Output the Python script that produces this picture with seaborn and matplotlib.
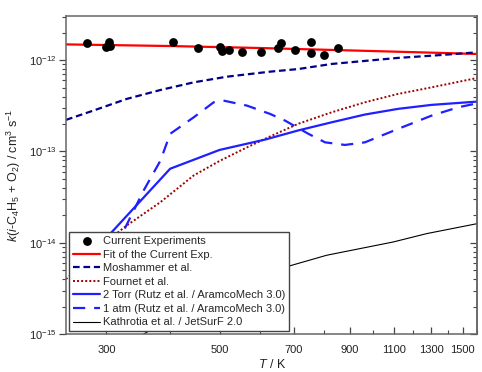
import numpy as np
import matplotlib
matplotlib.use("Agg")
import matplotlib.pyplot as plt
import seaborn as sns
from matplotlib.ticker import FixedLocator, FixedFormatter, NullFormatter, LogFormatterSciNotation

# current experiments
exp_T = [275, 299, 304, 305, 406, 454, 502, 505, 521, 553, 603, 651, 660, 704, 756, 756, 803, 854]
exp_k = [1.53e-12, 1.38e-12, 1.57e-12, 1.44e-12, 1.58e-12, 1.35e-12, 1.40e-12, 1.27e-12, 1.29e-12,
         1.24e-12, 1.22e-12, 1.35e-12, 1.53e-12, 1.30e-12, 1.59e-12, 1.19e-12, 1.15e-12, 1.35e-12]

# fit of the current experiments
fit_T = [250, 400, 600, 900, 1300, 1600]
fit_k = [1.49e-12, 1.43e-12, 1.36e-12, 1.28e-12, 1.21e-12, 1.17e-12]

# Moshammer et al.
mos_T = [250, 283, 329, 383, 445, 517, 628, 713, 830, 1119, 1302, 1600]
mos_k = [2.22e-13, 2.81e-13, 3.77e-13, 4.72e-13, 5.72e-13, 6.6e-13, 7.49e-13, 8.0e-13, 9.1e-13,
         1.06e-12, 1.12e-12, 1.22e-12]

# Fournet et al.
fou_T = [250, 305, 329, 383, 445, 502, 566, 628, 713, 830, 964, 1119, 1302, 1600]
fou_k = [4.0e-15, 1.11e-14, 1.55e-14, 2.79e-14, 5.47e-14, 7.97e-14, 1.11e-13, 1.46e-13, 2.01e-13,
         2.69e-13, 3.46e-13, 4.27e-13, 5.04e-13, 6.39e-13]

# Rutz et al. / AramcoMech 3.0, 2 Torr
torr_T = [300, 400, 500, 614, 713, 830, 964, 1119, 1302, 1600]
torr_k = [1.13e-14, 6.47e-14, 1.04e-13, 1.35e-13, 1.70e-13, 2.09e-13, 2.54e-13, 2.93e-13, 3.24e-13, 3.52e-13]

# Rutz et al. / AramcoMech 3.0, 1 atm
atm_T = [300, 329, 355, 383, 400, 445, 487, 509, 566, 628, 672, 747, 805, 881, 964, 1120, 1302, 1469, 1600]
atm_k = [5.5e-15, 1.59e-14, 3.75e-14, 7.97e-14, 1.56e-13, 2.37e-13, 3.46e-13, 3.61e-13, 3.18e-13,
         2.58e-13, 2.18e-13, 1.56e-13, 1.26e-13, 1.18e-13, 1.26e-13, 1.77e-13, 2.47e-13, 3.05e-13, 3.37e-13]

# Kathrotia et al. / JetSurF 2.0
kat_T = [355, 450, 560, 682, 811, 1095, 1274, 1600]
kat_k = [1.0e-15, 2.24e-15, 3.9e-15, 5.53e-15, 7.3e-15, 1.02e-14, 1.26e-14, 1.62e-14]

x_major = [300, 500, 700, 900, 1100, 1300, 1500]
x_minor = [400, 600, 800, 1000, 1200, 1400, 1600]
y_major = [1e-15, 1e-14, 1e-13, 1e-12]

sns.set_style("ticks")
plt.rcParams['font.family'] = ['Liberation Sans', 'DejaVu Sans']
plt.rcParams['mathtext.fontset'] = 'custom'
plt.rcParams['mathtext.rm'] = 'Liberation Sans'
plt.rcParams['mathtext.it'] = 'Liberation Sans:italic'
plt.rcParams['mathtext.bf'] = 'Liberation Sans:bold'

fig = plt.figure(figsize=(4.82, 3.72), dpi=100)
ax = fig.add_axes([0.137, 0.102, 0.853, 0.855])

sns.lineplot(x=fit_T, y=fit_k, color="#FF0000", lw=1.6, estimator=None, ax=ax,
             label="Fit of the Current Exp.")
sns.lineplot(x=mos_T, y=mos_k, color="#00008B", lw=1.6, linestyle=(0, (3, 1.7)), estimator=None, ax=ax,
             label="Moshammer et al.")
sns.lineplot(x=fou_T, y=fou_k, color="#A00000", lw=1.4, linestyle=(0, (1, 1.1)), estimator=None, ax=ax,
             label="Fournet et al.")
sns.lineplot(x=torr_T, y=torr_k, color="#1F1FFF", lw=1.6, estimator=None, ax=ax,
             label="2 Torr (Rutz et al. / AramcoMech 3.0)")
sns.lineplot(x=atm_T, y=atm_k, color="#1F1FFF", lw=1.6, linestyle=(0, (5.5, 4)), estimator=None, ax=ax,
             label="1 atm (Rutz et al. / AramcoMech 3.0)")
sns.lineplot(x=kat_T, y=kat_k, color="black", lw=0.8, estimator=None, ax=ax,
             label="Kathrotia et al. / JetSurF 2.0")
sns.scatterplot(x=exp_T, y=exp_k, color="black", s=40, edgecolor="black", linewidth=0, zorder=5, ax=ax,
                label="Current Experiments")

ax.set_xscale("log")
ax.set_yscale("log")
ax.set_xlim(250, 1600)
ax.set_ylim(1e-15, 3.05e-12)

y_minor = [m * d for d in y_major for m in range(2, 10) if m * d < 3.05e-12]

ax.xaxis.set_major_locator(FixedLocator(x_major))
ax.xaxis.set_minor_locator(FixedLocator(x_minor))
ax.xaxis.set_major_formatter(FixedFormatter([str(v) for v in x_major]))
ax.xaxis.set_minor_formatter(NullFormatter())
ax.yaxis.set_major_locator(FixedLocator(y_major))
ax.yaxis.set_minor_locator(FixedLocator(y_minor))
ax.yaxis.set_major_formatter(LogFormatterSciNotation())
ax.yaxis.set_minor_formatter(NullFormatter())

for s in ax.spines.values():
    s.set_color("#666666")
    s.set_linewidth(1.1)
    s.set_visible(True)

ax.tick_params(axis="x", which="both", direction="in", top=False, colors="#444444",
               labelcolor="#222222", labelsize=8, pad=8)
ax.tick_params(axis="x", which="major", length=5, width=0.9)
ax.tick_params(axis="x", which="minor", length=3, width=0.8)
ax.tick_params(axis="y", which="both", direction="out", right=False, colors="#444444",
               labelcolor="#222222", labelsize=8, pad=2)
ax.tick_params(axis="y", which="major", length=5, width=0.9)
ax.tick_params(axis="y", which="minor", length=3, width=0.8)

# inward ticks on the right side
ax2 = ax.secondary_yaxis("right")
ax2.yaxis.set_major_locator(FixedLocator(y_major))
ax2.yaxis.set_minor_locator(FixedLocator(y_minor))
ax2.yaxis.set_major_formatter(NullFormatter())
ax2.yaxis.set_minor_formatter(NullFormatter())
ax2.tick_params(which="both", direction="in", colors="#444444")
ax2.tick_params(which="major", length=5, width=0.9)
ax2.tick_params(which="minor", length=3, width=0.8)
ax2.spines["right"].set_color("#666666")
ax2.spines["right"].set_linewidth(1.1)

ax.set_xlabel(r"$T$ / K", fontsize=9, color="#222222", labelpad=2)
ax.set_ylabel(r"$k$($i$-C$_4$H$_5$ + O$_2$) / cm$^3$ s$^{-1}$", fontsize=9, color="#222222", labelpad=4)

handles, labels = ax.get_legend_handles_labels()
order = ["Current Experiments", "Fit of the Current Exp.", "Moshammer et al.", "Fournet et al.",
         "2 Torr (Rutz et al. / AramcoMech 3.0)", "1 atm (Rutz et al. / AramcoMech 3.0)",
         "Kathrotia et al. / JetSurF 2.0"]
hmap = dict(zip(labels, handles))
leg = ax.legend([hmap[l] for l in order], order, loc="lower left", fontsize=8,
                frameon=True, fancybox=False, framealpha=1, edgecolor="#444444",
                handlelength=2.5, handletextpad=0.2, labelspacing=0.32, borderpad=0.35,
                borderaxespad=0.25, scatterpoints=1)
leg.get_frame().set_linewidth(1.0)
leg.set_zorder(10)

fig.savefig("out.png", dpi=100)
